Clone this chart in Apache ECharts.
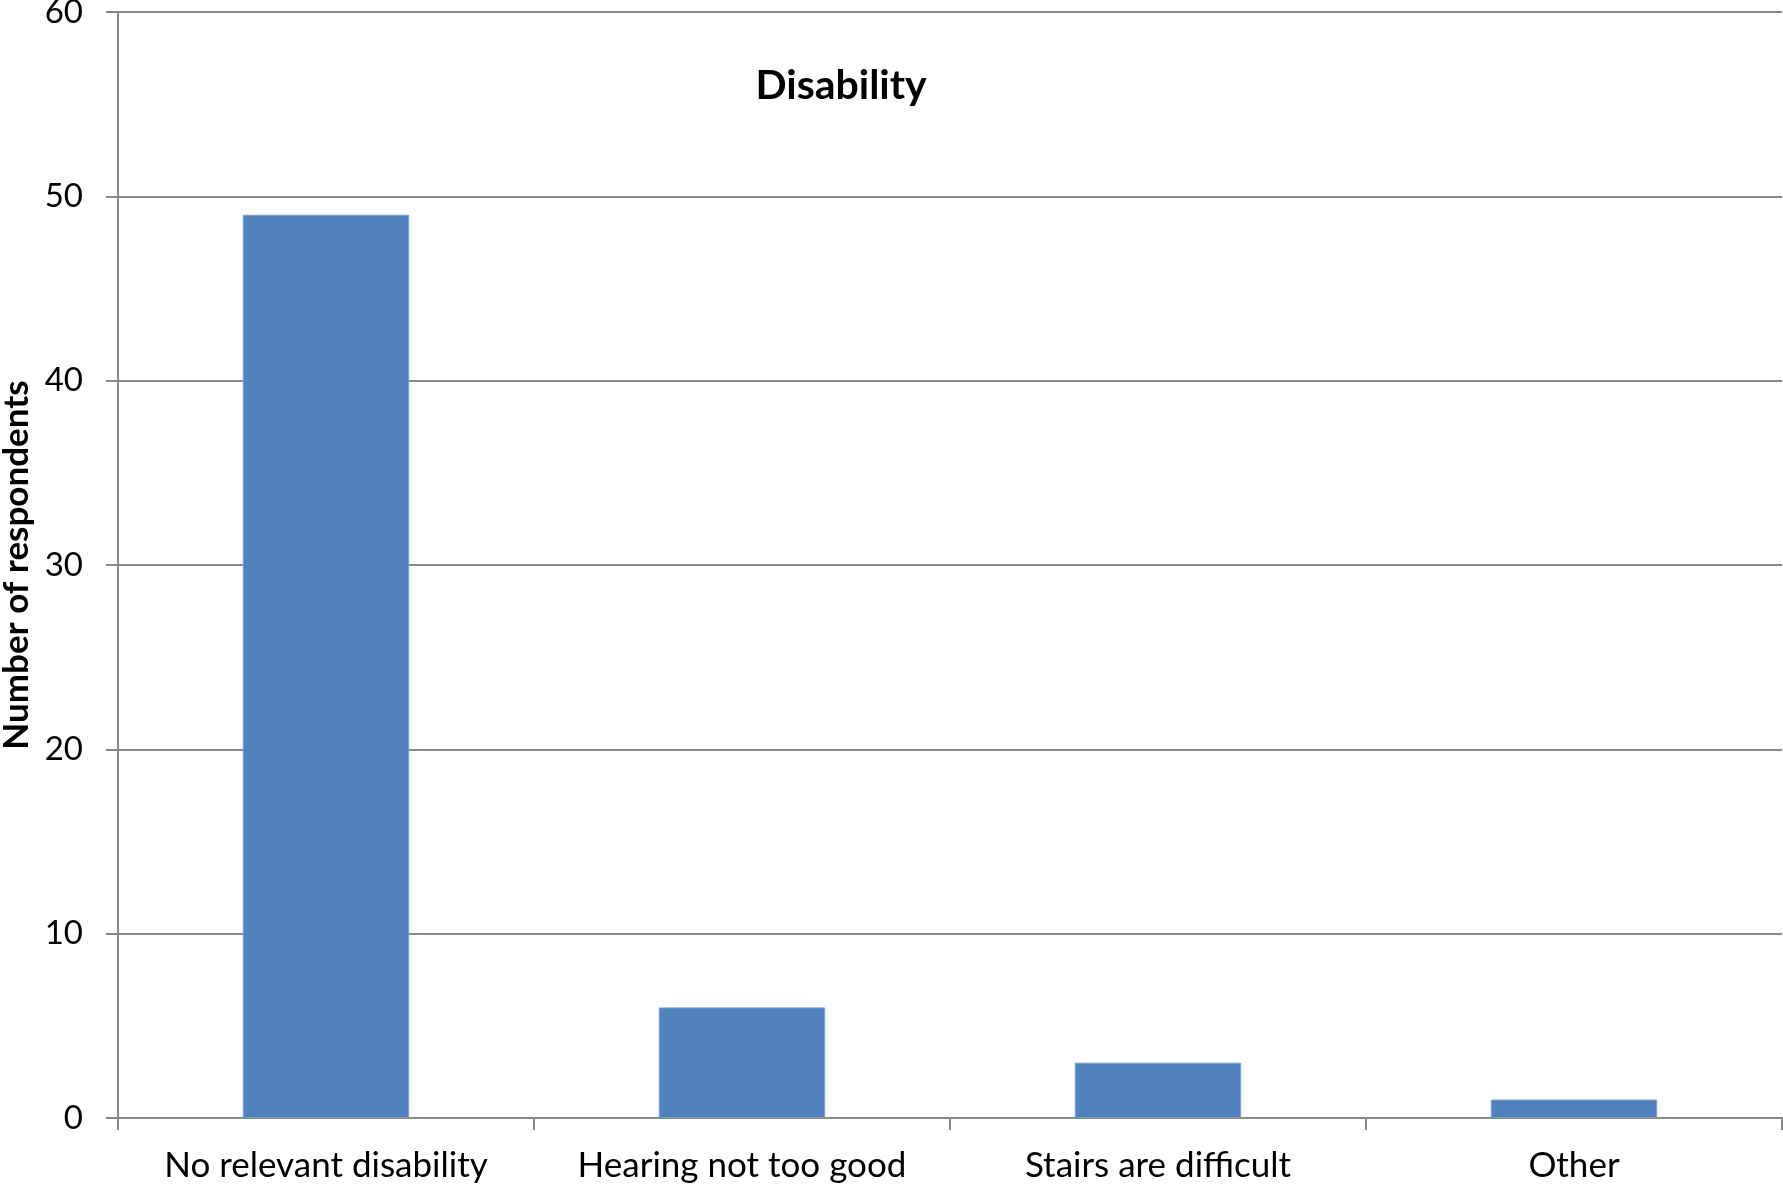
<!DOCTYPE html>
<html><head><meta charset="utf-8">
<script src="https://cdn.jsdelivr.net/npm/echarts@6/dist/echarts.min.js"></script>
<style>html,body{margin:0;padding:0;background:#fff}#c{width:1783px;height:1186px}</style>
</head><body><div id="c"></div>
<script>
const categories = ["No relevant disability", "Hearing not too good", "Stairs are difficult", "Other"];
const respondents = [49, 6, 3, 1];
const yTicks = { min: 0, max: 60, interval: 10 };
const chartTitle = "Disability";
const yAxisName = "Number of respondents";

const FONT = "Lato";
const chart = echarts.init(document.getElementById('c'), null, { renderer: 'canvas' });
chart.setOption({
  animation: false,
  backgroundColor: '#fff',
  title: {
    text: chartTitle, left: 836, top: 60, textAlign: 'center',
    textStyle: { fontFamily: FONT, fontWeight: 'bold', fontSize: 41, color: '#000' }
  },
  grid: { left: 118, right: 1, top: 12, bottom: 68, containLabel: false, outerBoundsMode: 'none' },
  xAxis: {
    type: 'category', data: categories,
    axisLine: { lineStyle: { color: '#888', width: 2 } },
    axisTick: { show: true, interval: 0, length: 12, lineStyle: { color: '#888', width: 2 } },
    axisLabel: { interval: 0, fontFamily: FONT, fontSize: 35, color: '#000', margin: 30, hideOverlap: false }
  },
  yAxis: {
    type: 'value', min: yTicks.min, max: yTicks.max, interval: yTicks.interval,
    name: yAxisName, nameLocation: 'middle', nameGap: 84, nameRotate: 90,
    nameTextStyle: { fontFamily: FONT, fontWeight: 'bold', fontSize: 35, color: '#000' },
    axisLine: { show: true, lineStyle: { color: '#888', width: 2 } },
    axisTick: { show: true, length: 12, lineStyle: { color: '#888', width: 2 } },
    axisLabel: { fontFamily: FONT, fontSize: 33, color: '#000', margin: 35 },
    splitLine: { lineStyle: { color: '#888', width: 2 } }
  },
  series: [{
    type: 'bar', data: respondents, barCategoryGap: '60%',
    itemStyle: { color: '#4F81BD', borderColor: '#7A9FCF', borderWidth: 1 }
  }]
});
</script></body></html>
